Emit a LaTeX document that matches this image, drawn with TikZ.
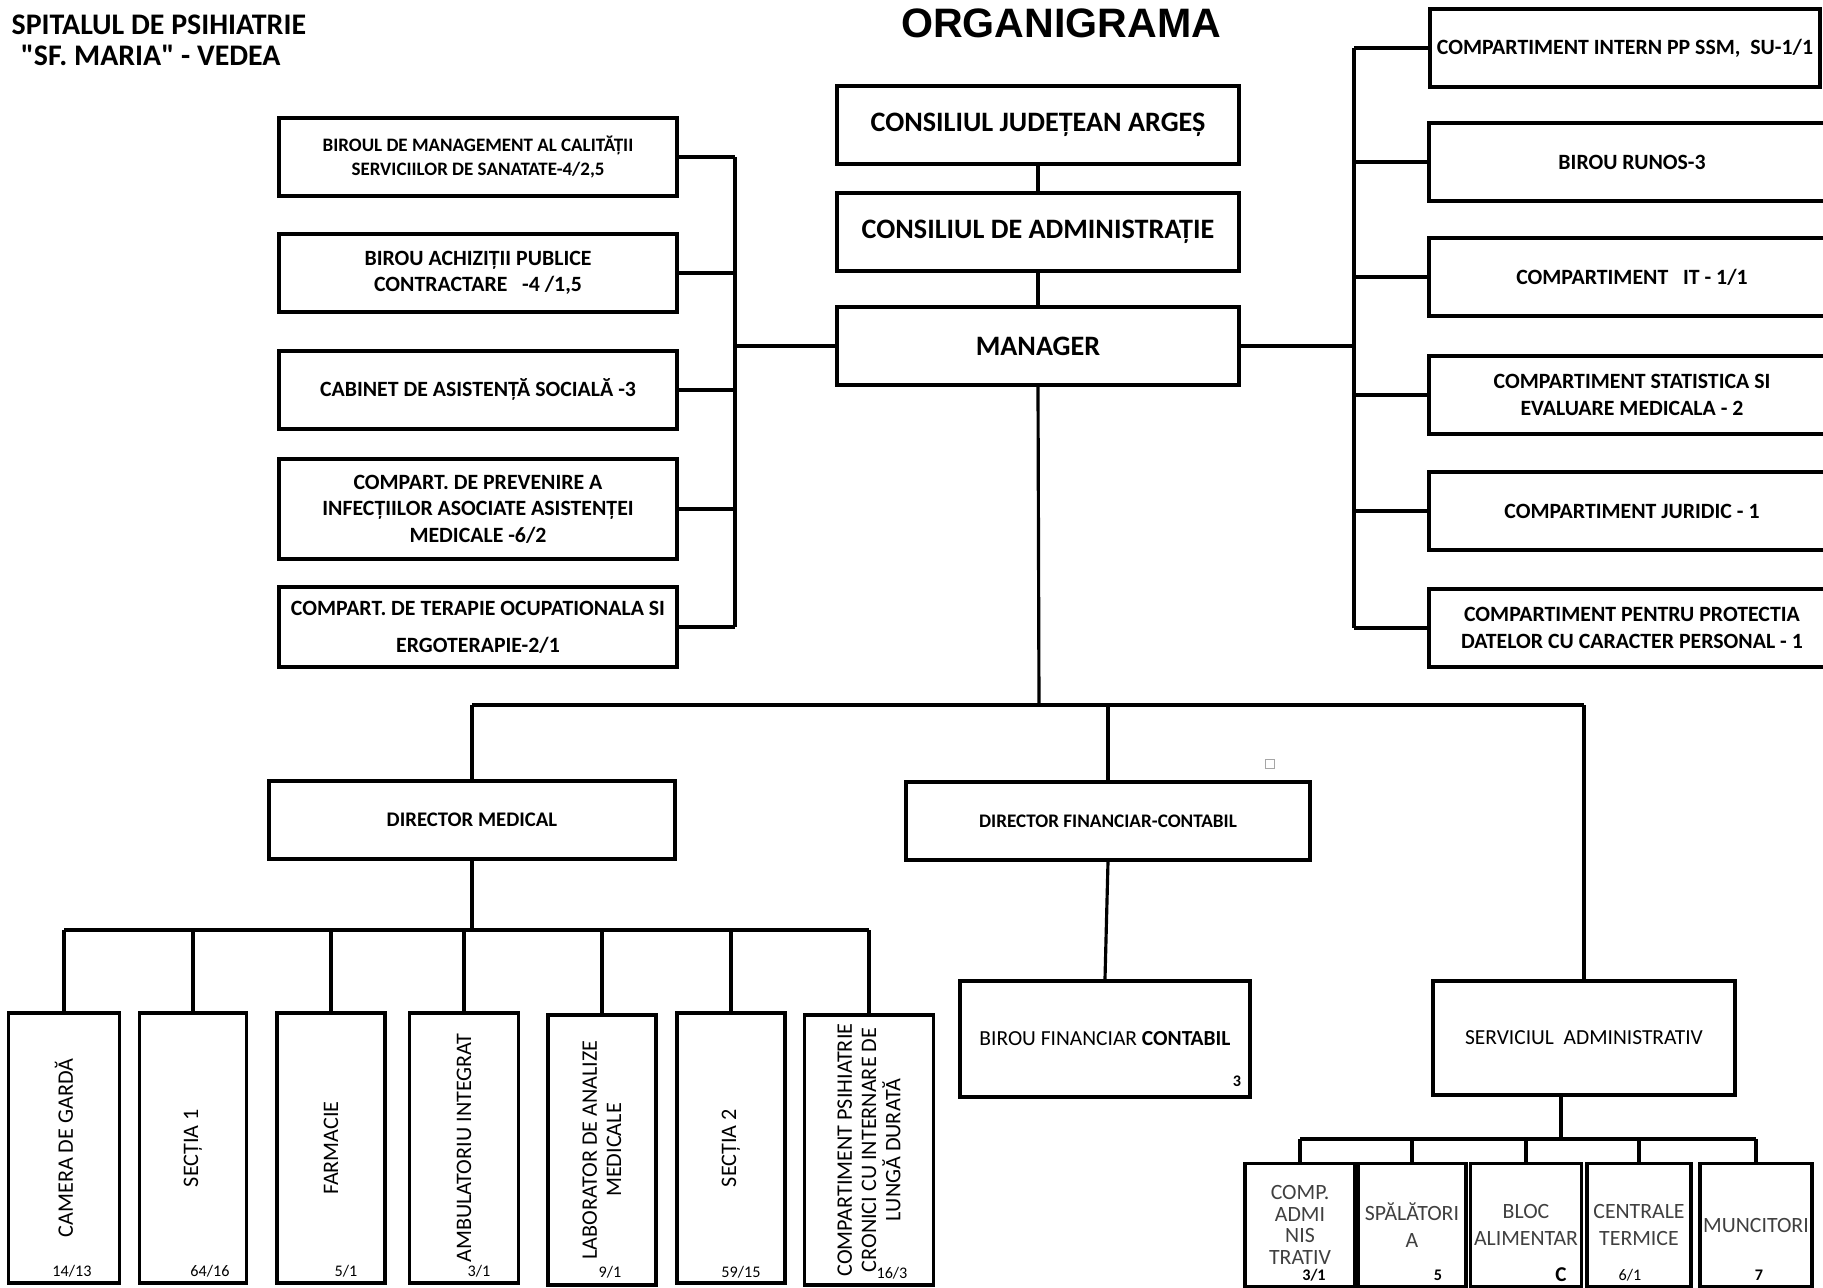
\documentclass[tikz,border=0pt]{standalone}
\usepackage{fontspec}
\setmainfont{Carlito}
\newfontfamily\headfont{Carlito}[Ligatures=TeXOff]
\newfontfamily\arialfont{Liberation Sans}
\usetikzlibrary{positioning}

\tikzset{
  box/.style={draw, line width=1.1pt, inner sep=1pt, align=center, font=\bfseries\fontsize{6.2}{7.5}\selectfont},
  topbox/.style={box, minimum width=4.02cm, minimum height=0.78cm, font=\bfseries\fontsize{8}{9.6}\selectfont},
  leftbox/.style={box, minimum width=3.98cm, minimum height=0.78cm},
  rightbox/.style={box, minimum width=4.05cm, minimum height=0.78cm},
  dirbox/.style={box, minimum height=0.78cm, font=\bfseries\fontsize{5.9}{7}\selectfont},
  medbox/.style={box, minimum height=2.70cm},
  subbox/.style={box, minimum height=1.23cm, font=\fontsize{6.2}{7.6}\selectfont\color{black!75}},
  vtext/.style={rotate=90, align=center, inner sep=0pt, font=\fontsize{6.3}{6.9}\selectfont},
  num/.style={inner sep=0pt, font=\fontsize{4.6}{5}\selectfont},
  bnum/.style={inner sep=0pt, font=\bfseries\fontsize{4.6}{5}\selectfont},
  link/.style={line width=0.9pt}
}

\begin{document}
\begin{tikzpicture}[x=0.01cm, y=-0.01cm]
		\useasboundingbox (0,0) rectangle (1823,1287);
		% Header:
		\node[anchor=north west, align=left, inner sep=0pt, font=\headfont\bfseries\fontsize{8.5}{8.8}\selectfont] (N0) at (11,14) {SPITALUL DE PSIHIATRIE\\\hspace{2.6pt}"SF. MARIA" - VEDEA};
		\node[inner sep=0pt, font=\arialfont\bfseries\fontsize{11.7}{12}\selectfont] (N00) at (1061,23) {ORGANIGRAMA};
		% Top of the chart:
		\node[topbox] (CJA) at (1038,125) {CONSILIUL JUDEȚEAN ARGEȘ};
		\node[topbox] (CA) at (1038,232) {CONSILIUL DE ADMINISTRAȚIE};
		\node[topbox] (MGR) at (1038,346) {MANAGER};
		\draw[link] (CJA) -- (CA);
		\draw[link] (CA) -- (MGR);
		% Left column:
		\node[leftbox, font=\bfseries\fontsize{5.4}{7}\selectfont] (B1) at (478,157) {BIROUL DE MANAGEMENT AL CALITĂȚII\\SERVICIILOR DE SANATATE-4/2,5};
		\node[leftbox] (B2) at (478,273) {BIROU ACHIZIȚII PUBLICE\\CONTRACTARE\ \ \ -4 /1,5};
		\node[leftbox] (B3) at (478,390) {CABINET DE ASISTENȚĂ SOCIALĂ -3};
		\node[leftbox, minimum height=1.0cm] (B4) at (478,509) {COMPART. DE PREVENIRE A\\INFECȚIILOR ASOCIATE ASISTENȚEI\\MEDICALE -6/2};
		\node[leftbox, minimum height=0.80cm] (B5) at (478,627) {COMPART. DE TERAPIE OCUPATIONALA SI\\[3pt]ERGOTERAPIE-2/1};
		\coordinate (LB) at (735,346);
		\draw[link] (MGR.west) -- (LB);
		\draw[link] (LB |- B1.east) -- (LB |- B5.east);
		\foreach \b in {B1,B2,B3,B4,B5}
			\draw[link] (\b.east) -- (\b.east -| LB);
		% Right column:
		\node[rightbox, minimum width=3.90cm] (R1) at (1625,48) {COMPARTIMENT INTERN PP SSM,\ \ SU-1/1};
		\node[rightbox] (R2) at (1632,162) {BIROU RUNOS-3};
		\node[rightbox] (R3) at (1632,277) {COMPARTIMENT\ \ \ IT - 1/1};
		\node[rightbox] (R4) at (1632,395) {COMPARTIMENT STATISTICA SI\\EVALUARE MEDICALA - 2};
		\node[rightbox] (R5) at (1632,511) {COMPARTIMENT JURIDIC - 1};
		\node[rightbox] (R6) at (1632,628) {COMPARTIMENT PENTRU PROTECTIA\\DATELOR CU CARACTER PERSONAL - 1};
		\coordinate (RB) at (1354,346);
		\draw[link] (MGR.east) -- (RB);
		\draw[link] (RB |- R1.west) -- (RB |- R6.west);
		\foreach \r in {R1,R2,R3,R4,R5,R6}
			\draw[link] (\r.west) -- (\r.west -| RB);
		% Directors:
		\node[dirbox, minimum width=4.05cm] (DM) at (472,820) {DIRECTOR MEDICAL};
		\node[dirbox, minimum width=4.03cm, font=\bfseries\fontsize{5.45}{7}\selectfont] (DF) at (1108,821) {DIRECTOR FINANCIAR-CONTABIL};
		\node[box, minimum width=2.90cm, minimum height=1.16cm, font=\fontsize{6.1}{7.5}\selectfont] (BFC) at (1105,1039) {BIROU FINANCIAR \textbf{CONTABIL}};
		\node[box, minimum width=3.02cm, minimum height=1.14cm, font=\fontsize{6.1}{7.5}\selectfont] (SA) at (1584,1038) {SERVICIUL\ \ ADMINISTRATIV};
		\node[bnum] (BFCn) at (1237,1081) {3};
		\coordinate (MB) at (1039,705);
		\draw[link] (MGR.south) -- (MB);
		\draw[link] (MB -| DM.north) -- (MB -| SA.north);
		\draw[link] (MB -| DM.north) -- (DM.north);
		\draw[link] (MB -| DF.north) -- (DF.north);
		\draw[link] (MB -| SA.north) -- (SA.north);
		\draw[link] (DF.south) -- (BFC.north);
		\node[draw=black!35, line width=0.3pt, minimum size=0.09cm, inner sep=0pt] (N9) at (1270,764) {};
		% Medical sections:
		\node[medbox, minimum width=1.11cm] (K1) at (64,1148) {};
		\node[medbox, minimum width=1.07cm] (K2) at (193,1148) {};
		\node[medbox, minimum width=1.08cm] (K3) at (331,1148) {};
		\node[medbox, minimum width=1.09cm] (K4) at (464,1148) {};
		\node[medbox, minimum width=1.08cm] (K5) at (602,1150) {};
		\node[medbox, minimum width=1.08cm] (K6) at (731,1148) {};
		\node[medbox, minimum width=1.29cm] (K7) at (869,1150) {};
		\node[vtext] (K1t) at (K1) {CAMERA DE GARDĂ};
		\node[vtext] (K2t) at (K2) {SECȚIA 1};
		\node[vtext] (K3t) at (K3) {FARMACIE};
		\node[vtext] (K4t) at (K4) {AMBULATORIU INTEGRAT};
		\node[vtext] (K5t) at (K5) {LABORATOR DE ANALIZE\\MEDICALE};
		\node[vtext] (K6t) at (K6) {SECȚIA 2};
		\node[vtext] (K7t) at (K7) {COMPARTIMENT PSIHIATRIE\\CRONICI CU INTERNARE DE\\LUNGĂ DURATĂ};
		\node[num] (K1n) at (72,1271) {14/13};
		\node[num] (K2n) at (210,1271) {64/16};
		\node[num] (K3n) at (346,1271) {5/1};
		\node[num] (K4n) at (479,1271) {3/1};
		\node[num] (K5n) at (610,1272) {9/1};
		\node[num] (K6n) at (741,1272) {59/15};
		\node[num] (K7n) at (892,1273) {16/3};
		\coordinate (KB) at (472,930);
		\draw[link] (DM.south) -- (KB);
		\draw[link] (KB -| K1.north) -- (KB -| K7.north);
		\foreach \k in {K1,K2,K3,K4,K5,K6,K7}
			\draw[link] (\k.north) -- (\k.north |- KB);
		% Administrative service:
		\node[subbox, minimum width=1.10cm, font=\fontsize{6.2}{6.2}\selectfont\color{black!75}] (A1) at (1300,1225) {COMP.\\ADMI\\NIS\\TRATIV};
		\node[subbox, minimum width=1.08cm] (A2) at (1412,1225) {SPĂLĂTORI\\A};
		\node[subbox, minimum width=1.09cm] (A3) at (1526,1225) {BLOC\\ALIMENTAR};
		\node[subbox, minimum width=1.04cm] (A4) at (1639,1225) {CENTRALE\\TERMICE};
		\node[subbox, minimum width=1.07cm] (A5) at (1756,1225) {MUNCITORI};
		\node[bnum] (A1n) at (1314,1275) {3/1};
		\node[bnum] (A2n) at (1438,1275) {5};
		\node[bnum, font=\bfseries\fontsize{6}{6}\selectfont] (A3n) at (1561,1275) {C};
		\node[num] (A4n) at (1630,1275) {6/1};
		\node[bnum] (A5n) at (1759,1275) {7};
		\coordinate (AB) at (1561,1139);
		\draw[link] (SA.south -| AB) -- (AB);
		\draw[link] (AB -| A1.north) -- (AB -| A5.north);
		\foreach \a in {A1,A2,A3,A4,A5}
			\draw[link] (\a.north) -- (\a.north |- AB);
	\end{tikzpicture}
\end{document}
